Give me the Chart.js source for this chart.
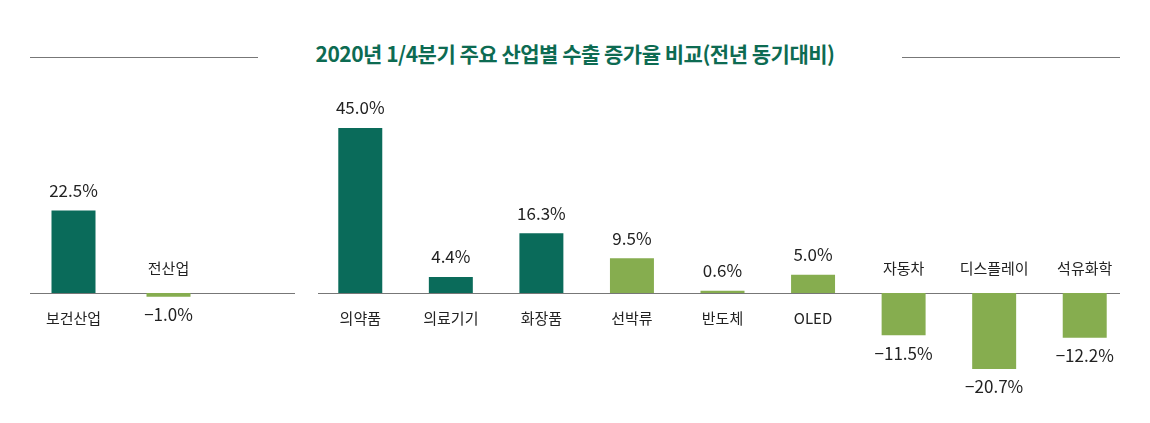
<!DOCTYPE html>
<html><head><meta charset="utf-8">
<script src="https://cdn.jsdelivr.net/npm/chart.js@4"></script>
<style>
body{margin:0;background:#fff;width:1150px;height:423px;position:relative;overflow:hidden;font-family:"Noto Sans CJK KR","Noto Sans",sans-serif;}
#title{position:absolute;top:38px;left:0;width:1150px;text-align:center;font-size:21px;font-weight:bold;color:#0d6b52;letter-spacing:-0.5px;}
.line{position:absolute;height:1px;background:#777;}
canvas{position:absolute;}
</style></head><body>
<div id="title">2020년 1/4분기 주요 산업별 수출 증가율 비교(전년 동기대비)</div>
<div class="line" style="left:30px;width:228px;top:57px"></div>
<div class="line" style="left:902px;width:218px;top:57px"></div>
<div class="line" style="left:30px;width:265px;top:293px"></div>
<div class="line" style="left:318px;width:802px;top:293px"></div>
<canvas id="left" style="left:26px;top:80px;width:190px;height:330px"></canvas>
<canvas id="right" style="left:315px;top:80px;width:815px;height:330px"></canvas>
<script>
// 데이터
const leftCategories = ['보건산업', '전산업'];
const leftValues = [22.5, -1.0];
const rightCategories = ['의약품', '의료기기', '화장품', '선박류', '반도체', 'OLED', '자동차', '디스플레이', '석유화학'];
const rightValues = [45.0, 4.4, 16.3, 9.5, 0.6, 5.0, -11.5, -20.7, -12.2];

const DARK = '#0a6b5a', LIGHT = '#86ad4f';
const leftColors = [DARK, LIGHT];
const rightColors = [DARK, DARK, DARK, LIGHT, LIGHT, LIGHT, LIGHT, LIGHT, LIGHT];

const labelPlugin = {
  id: 'barLabels',
  afterDatasetsDraw(chart) {
    const ctx = chart.ctx;
    const meta = chart.getDatasetMeta(0);
    const vals = chart.data.datasets[0].data;
    ctx.save();
    ctx.textAlign = 'center';
    ctx.textBaseline = 'middle';
    ctx.fillStyle = '#222';
    meta.data.forEach((bar, i) => {
      const v = vals[i];
      const txt = (v < 0 ? '\u2212' : '') + Math.abs(v).toFixed(1) + '%';
      ctx.font = '17px "Noto Sans CJK KR", sans-serif';
      if (v >= 0) ctx.fillText(txt, bar.x, bar.y - 20);
      else ctx.fillText(txt, bar.x, bar.y + 18);
      ctx.font = '15px "Noto Sans CJK KR", sans-serif';
      const cat = chart.data.labels[i];
      if (v >= 0) ctx.fillText(cat, bar.x, bar.base + 25);
      else ctx.fillText(cat, bar.x, bar.base - 25);
    });
    ctx.restore();
  }
};

function makeChart(id, labels, values, colors, pct) {
  new Chart(document.getElementById(id), {
    type: 'bar',
    data: { labels: labels, datasets: [{ data: values, backgroundColor: colors, barPercentage: pct, categoryPercentage: 1 }] },
    options: {
      responsive: false, animation: false,
      layout: { padding: 0 },
      plugins: { legend: { display: false }, tooltip: { enabled: false } },
      scales: {
        x: { display: false },
        y: { display: false, min: -31.9, max: 58.1 }
      }
    },
    plugins: [labelPlugin]
  });
}
makeChart('left', leftCategories, leftValues, leftColors, 44 / 95);
makeChart('right', rightCategories, rightValues, rightColors, 44 / 90.6);
</script>
</body></html>
